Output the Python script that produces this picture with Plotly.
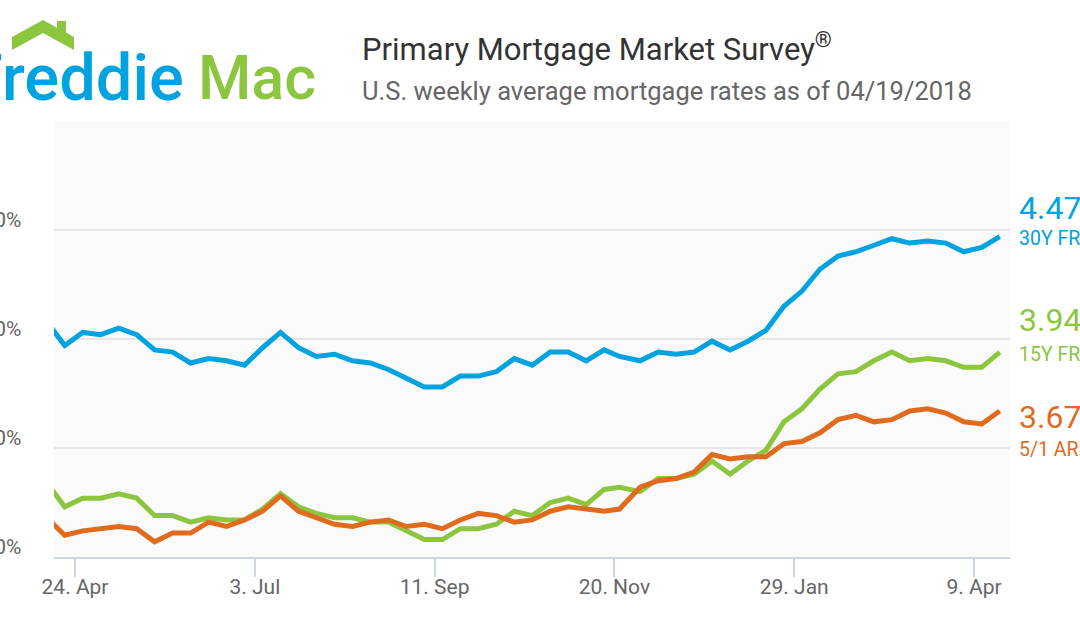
import plotly.graph_objects as go

# ---------------- data ----------------
dates = [
    "2017-04-13", "2017-04-20", "2017-04-27", "2017-05-04", "2017-05-11", "2017-05-18", "2017-05-25",
    "2017-06-01", "2017-06-08", "2017-06-15", "2017-06-22", "2017-06-29",
    "2017-07-06", "2017-07-13", "2017-07-20", "2017-07-27",
    "2017-08-03", "2017-08-10", "2017-08-17", "2017-08-24", "2017-08-31",
    "2017-09-07", "2017-09-14", "2017-09-21", "2017-09-28",
    "2017-10-05", "2017-10-12", "2017-10-19", "2017-10-26",
    "2017-11-02", "2017-11-09", "2017-11-16", "2017-11-22", "2017-11-30",
    "2017-12-07", "2017-12-14", "2017-12-21", "2017-12-28",
    "2018-01-04", "2018-01-11", "2018-01-18", "2018-01-25",
    "2018-02-01", "2018-02-08", "2018-02-15", "2018-02-22",
    "2018-03-01", "2018-03-08", "2018-03-15", "2018-03-22", "2018-03-29",
    "2018-04-05", "2018-04-12", "2018-04-19",
]
frm30 = [4.08, 3.97, 4.03, 4.02, 4.05, 4.02, 3.95,
         3.94, 3.89, 3.91, 3.90, 3.88,
         3.96, 4.03, 3.96, 3.92,
         3.93, 3.90, 3.89, 3.86, 3.82,
         3.78, 3.78, 3.83, 3.83,
         3.85, 3.91, 3.88, 3.94,
         3.94, 3.90, 3.95, 3.92, 3.90,
         3.94, 3.93, 3.94, 3.99,
         3.95, 3.99, 4.04, 4.15,
         4.22, 4.32, 4.38, 4.40,
         4.43, 4.46, 4.44, 4.45, 4.44,
         4.40, 4.42, 4.47]
frm15 = [3.34, 3.23, 3.27, 3.27, 3.29, 3.27, 3.19,
         3.19, 3.16, 3.18, 3.17, 3.17,
         3.22, 3.29, 3.23, 3.20,
         3.18, 3.18, 3.16, 3.16, 3.12,
         3.08, 3.08, 3.13, 3.13,
         3.15, 3.21, 3.19, 3.25,
         3.27, 3.24, 3.31, 3.32, 3.30,
         3.36, 3.36, 3.38, 3.44,
         3.38, 3.44, 3.49, 3.62,
         3.68, 3.77, 3.84, 3.85,
         3.90, 3.94, 3.90, 3.91, 3.90,
         3.87, 3.87, 3.94]
arm51 = [3.18, 3.10, 3.12, 3.13, 3.14, 3.13, 3.07,
         3.11, 3.11, 3.16, 3.14, 3.17,
         3.21, 3.28, 3.21, 3.18,
         3.15, 3.14, 3.16, 3.17, 3.14,
         3.15, 3.13, 3.17, 3.20,
         3.19, 3.16, 3.17, 3.21,
         3.23, 3.22, 3.21, 3.22, 3.32,
         3.35, 3.36, 3.39, 3.47,
         3.45, 3.46, 3.46, 3.52,
         3.53, 3.57, 3.63, 3.65,
         3.62, 3.63, 3.67, 3.68, 3.66,
         3.62, 3.61, 3.67]
series_names = ["30Y FRM", "15Y FRM", "5/1 ARM"]
series_values = [frm30, frm15, arm51]

x_tickvals = ["2017-04-24", "2017-07-03", "2017-09-11", "2017-11-20", "2018-01-29", "2018-04-09"]
x_ticktext = ["24. Apr", "3. Jul", "11. Sep", "20. Nov", "29. Jan", "9. Apr"]
y_tickvals = [3.0, 3.5, 4.0, 4.5]
y_ticktext = ["3.00%", "3.50%", "4.00%", "4.50%"]

title_text = "Primary Mortgage Market Survey<sup>®</sup>"
subtitle_text = "U.S. weekly average mortgage rates as of 04/19/2018"

# ---------------- style ----------------
W, H = 1080, 630
PL, PR, PT, PB = 54, 1010, 121, 557
colors = ["#00a3e0", "#8cc63f", "#e06b1e"]
FONT = "Roboto"
# (number yshift, label yshift) in px per series
label_shifts = [(29, -2), (32, -2), (-6, -39)]


def px(x):
    return (x - PL) / (PR - PL)


def py(y):
    return (PB - y) / (PB - PT)


fig = go.Figure()
for name, vals, col in zip(series_names, series_values, colors):
    fig.add_trace(go.Scatter(
        x=dates, y=vals, mode="lines", name=name,
        line=dict(color=col, width=5),
        hoverinfo="skip",
    ))

annotations = []
# end-of-line labels
for name, vals, col, (s1, s2) in zip(series_names, series_values, colors, label_shifts):
    annotations.append(dict(
        x=dates[-1], y=vals[-1], xref="x", yref="y", text=f"{vals[-1]:.2f}%",
        showarrow=False, xanchor="left", yanchor="middle", xshift=17, yshift=s1,
        font=dict(family=FONT, size=32, color=col)))
    annotations.append(dict(
        x=dates[-1], y=vals[-1], xref="x", yref="y", text=name,
        showarrow=False, xanchor="left", yanchor="middle", xshift=17, yshift=s2,
        font=dict(family=FONT, size=19.5, color=col)))

# y-axis labels (left, partially cropped)
for v, t in zip(y_tickvals, y_ticktext):
    annotations.append(dict(
        x=px(23), y=v, xref="paper", yref="y", text=t, showarrow=False,
        xanchor="right", yanchor="middle", yshift=10,
        font=dict(family=FONT, size=21, color="#666666")))

# title / subtitle
annotations.append(dict(
    x=px(360), y=py(47), xref="paper", yref="paper", text=title_text, showarrow=False,
    xanchor="left", yanchor="middle", font=dict(family=FONT, size=31, color="#333333")))
annotations.append(dict(
    x=px(360), y=py(91), xref="paper", yref="paper", text=subtitle_text, showarrow=False,
    xanchor="left", yanchor="middle", font=dict(family=FONT, size=25.5, color="#666666")))

# logo text
annotations.append(dict(
    x=px(186), y=py(78), xref="paper", yref="paper", text="Freddie", showarrow=False,
    xanchor="right", yanchor="middle",
    font=dict(family=FONT, size=65, color="#00a3e0", weight=500)))
annotations.append(dict(
    x=px(196), y=py(78), xref="paper", yref="paper", text="Mac", showarrow=False,
    xanchor="left", yanchor="middle",
    font=dict(family=FONT, size=61, color="#8cc63f", weight=500)))

# logo roof
roof = [(12, 50), (12, 37), (43, 20), (57, 27.7), (57, 21), (66, 21), (66, 32.6),
        (74, 37), (74, 50), (43, 33)]
path = "M " + " L ".join(f"{px(a):.5f},{py(b):.5f}" for a, b in roof) + " Z"
shapes = [dict(type="path", xref="paper", yref="paper", path=path,
               fillcolor="#8cc63f", line=dict(width=0), layer="above")]

fig.update_layout(
    width=W, height=H,
    margin=dict(l=PL, r=W - PR, t=PT, b=H - PB, pad=0),
    paper_bgcolor="#ffffff", plot_bgcolor="#fafafa",
    showlegend=False,
    annotations=annotations,
    shapes=shapes,
    font=dict(family=FONT, color="#666666"),
    xaxis=dict(
        type="date", range=["2017-04-15 19:40", "2018-04-23"],
        tickvals=x_tickvals, ticktext=x_ticktext,
        ticks="outside", ticklen=18, tickwidth=1.5, tickcolor="#ccd6eb",
        ticklabelstandoff=-8,
        showline=True, linecolor="#ccd6eb", linewidth=2,
        showgrid=False, zeroline=False,
        tickfont=dict(family=FONT, size=21, color="#666666"),
        fixedrange=True,
    ),
    yaxis=dict(
        range=[3.0, 5.0], tickvals=[3.0, 3.5, 4.0, 4.5, 5.0],
        showticklabels=False, showgrid=True, gridcolor="#e6e6e6", gridwidth=1.5,
        zeroline=False, showline=False, fixedrange=True,
    ),
)

fig.write_html("out.html")
